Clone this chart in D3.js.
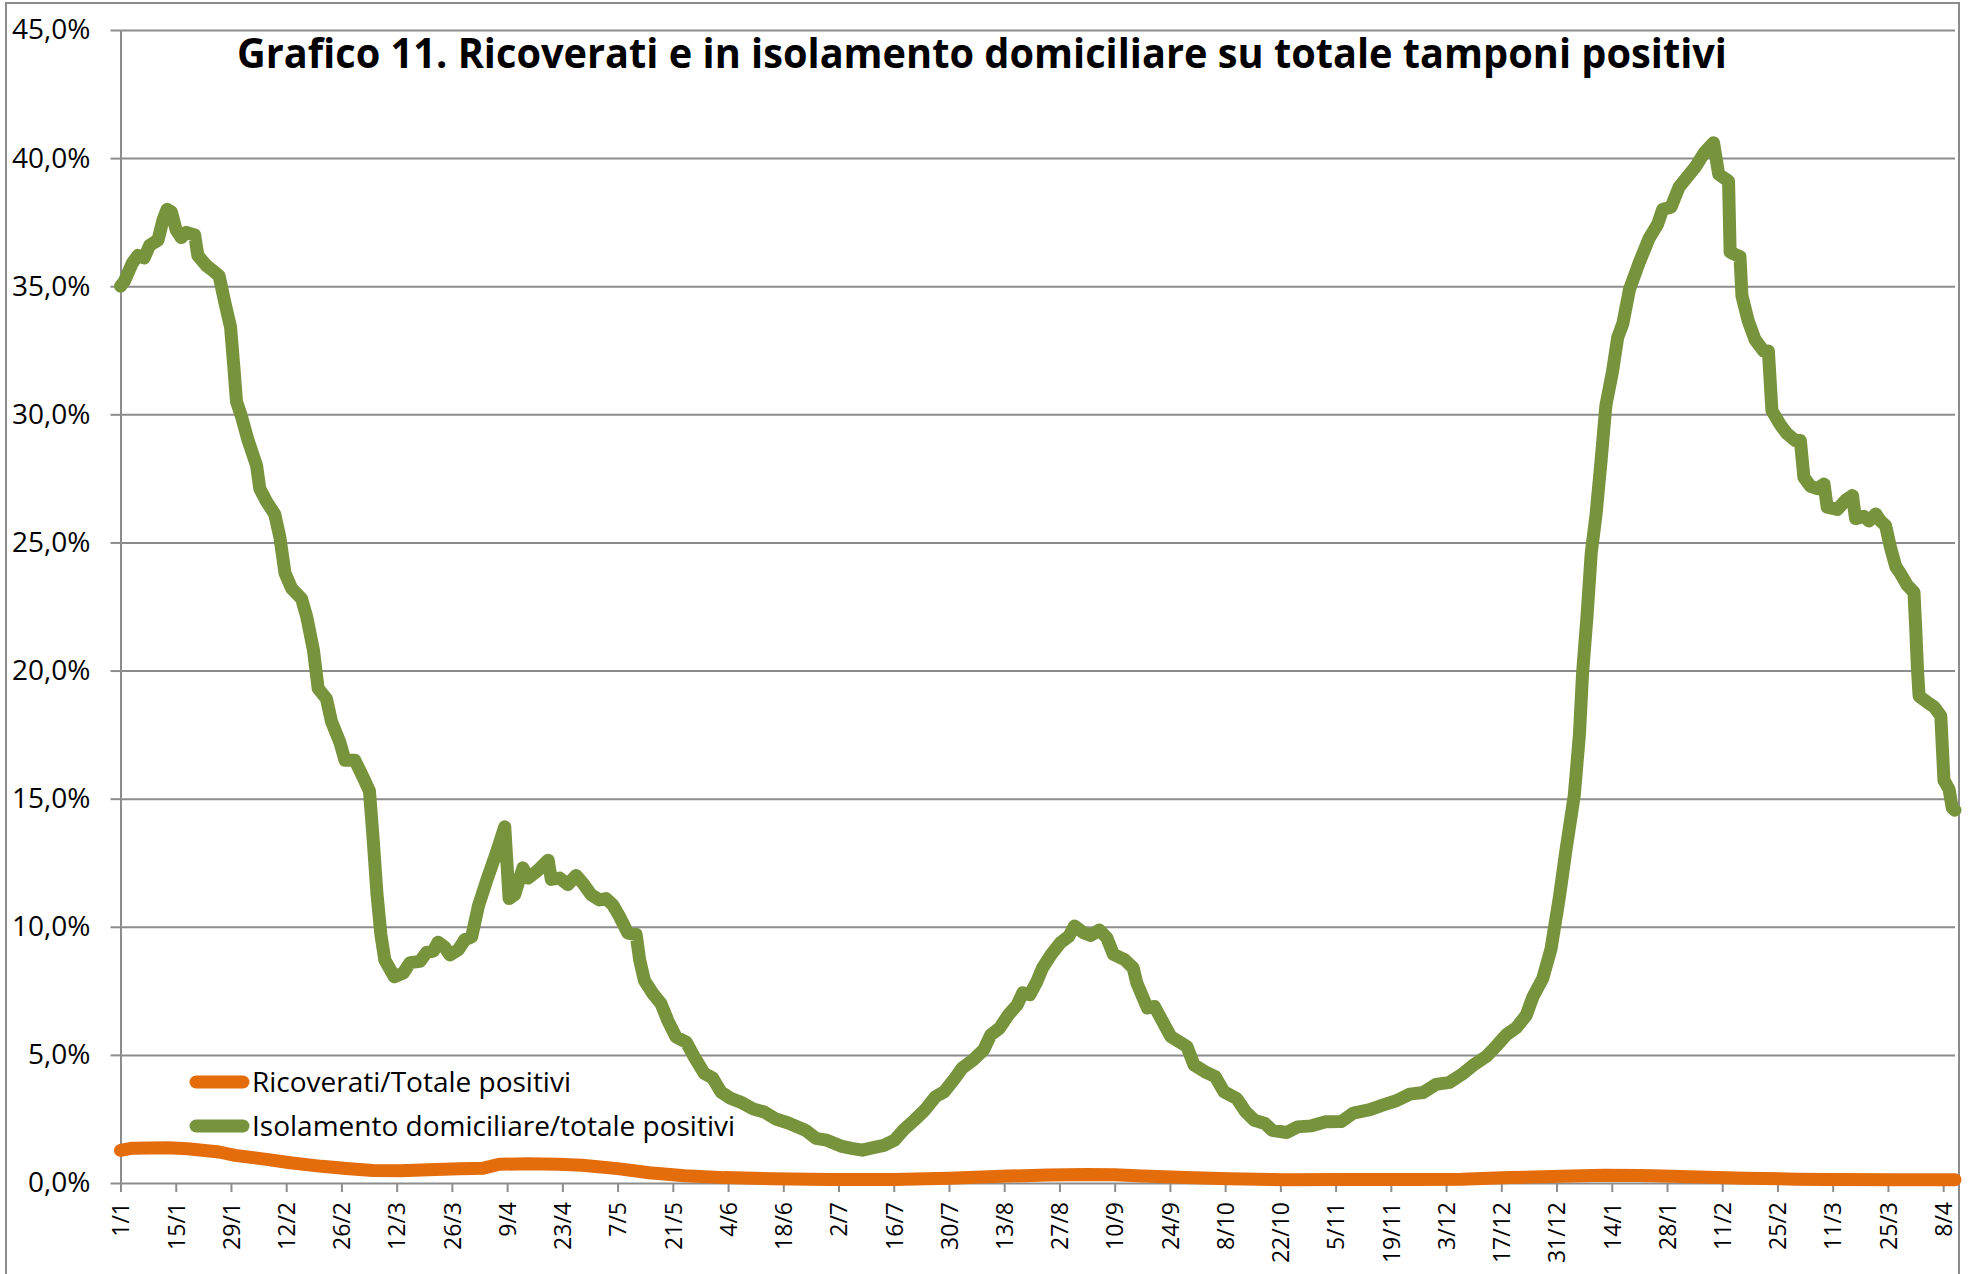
<!DOCTYPE html>
<html>
<head>
<meta charset="utf-8">
<script src="https://cdn.jsdelivr.net/npm/d3@7"></script>
<style>
  body { margin: 0; background: #fff; }
  svg { display: block; font-family: "Open Sans", "Noto Sans", sans-serif; }
</style>
</head>
<body>
<svg id="chart" width="1976" height="1274"></svg>
<script>
// days counted from 1/1/2021, values in %
const isoDays = [0, 1, 3, 4.4, 6, 7.4, 9.5, 10.8, 11.8, 12.9, 14.1, 15.4, 16.7, 18.8, 19.6, 21.8, 23.5, 25, 26.4, 27.9,
  28.7, 29.4, 30.7, 32.3, 34.5, 35.3, 37, 39.1, 40.4, 41.7, 43.4, 45.9, 47.2, 48.9, 50.1, 52.2, 53.5, 55.6, 56.9, 59.4,
  61.6, 63.1, 64, 65, 66, 67, 69.4, 71.7, 73.4, 75.9, 77.6, 79.3, 80.5, 82.2, 83.5, 85.6, 87.3, 89, 90.7, 92.8,
  95.3, 97.4, 98.5, 99.9, 102, 103.3, 105.8, 108.4, 109.2, 111.3, 113.4, 115.5, 117.2, 119.3, 121.4, 123.1, 124.8, 126.5, 128.6, 130.7,
  131.6, 132.8, 134.9, 137, 138.7, 140.8, 143.4, 145.5, 148, 150.1, 152.2, 154.7, 157.3, 160.2, 163.2, 166.1, 169.1, 173.6, 176.3, 179,
  182.6, 185.3, 188, 190.8, 193.5, 196.2, 198.4, 201.2, 203.9, 206.6, 208.8, 211.5, 213.3, 216.1, 218.8, 220.6, 222.8, 225.1, 227.3, 228.7,
  230.5, 232.3, 233.7, 235.9, 238.2, 240.4, 241.8, 244.1, 245.9, 248.1, 250, 251.7, 254.5, 256.7, 257.6, 260.3, 262.1, 263.9, 266.2, 270.3,
  272.1, 274.8, 277.5, 279.7, 282.9, 285.2, 287.4, 290.1, 291.9, 295.6, 298.3, 301.9, 305.5, 309.5, 312.5, 316.7, 320.1, 323.4, 326.8, 330.2,
  333.5, 336.9, 340.3, 342.8, 346.2, 348.7, 351.3, 353.8, 356.3, 358, 360.5, 362.6, 364.7, 366.4, 368.5, 369.8, 370.6, 371.7, 372.8, 374,
  375.3, 376.5, 378.2, 379.5, 380.8, 382.5, 385, 387.5, 389.6, 390.9, 393, 395.1, 397.2, 399.3, 401.4, 403.8, 405.1, 407.6, 408, 410.5,
  411, 412.6, 414.3, 416.5, 417.7, 418.6, 420.7, 422.4, 424.5, 425.8, 426.7, 428.4, 430.1, 431.8, 432.6, 435.2, 437.3, 439, 439.8, 441.9,
  443.2, 444.9, 446.1, 447.4, 448.7, 450, 451.2, 452.9, 454.6, 455, 455.5, 455.9, 458, 459.7, 461.4, 462.2, 463.5, 464.3, 465];
const isoValues = [35.0, 35.2, 35.9, 36.2, 36.1, 36.6, 36.8, 37.6, 38.0, 37.9, 37.2, 36.9, 37.1, 37.0, 36.2, 35.8, 35.6, 35.4, 34.4, 33.4,
  31.9, 30.5, 29.9, 29.0, 28.0, 27.1, 26.6, 26.1, 25.2, 23.8, 23.2, 22.8, 22.1, 20.8, 19.3, 18.9, 18.0, 17.2, 16.5, 16.5,
  15.8, 15.3, 13.5, 11.3, 9.7, 8.7, 8.05, 8.2, 8.6, 8.65, 9.0, 9.05, 9.4, 9.2, 8.9, 9.1, 9.5, 9.6, 10.8, 11.8,
  12.9, 13.9, 11.1, 11.25, 12.3, 11.9, 12.2, 12.6, 11.85, 11.9, 11.65, 12.0, 11.7, 11.25, 11.05, 11.1, 10.85, 10.4, 9.75, 9.7,
  8.7, 7.9, 7.4, 7.0, 6.35, 5.7, 5.5, 4.9, 4.27, 4.1, 3.55, 3.3, 3.15, 2.9, 2.77, 2.5, 2.35, 2.06, 1.74, 1.67,
  1.44, 1.35, 1.28, 1.38, 1.47, 1.67, 2.06, 2.45, 2.85, 3.37, 3.56, 4.09, 4.48, 4.8, 5.2, 5.78, 6.04, 6.57, 6.96, 7.42,
  7.35, 7.87, 8.39, 8.92, 9.37, 9.63, 10.03, 9.77, 9.66, 9.87, 9.57, 8.92, 8.72, 8.39, 7.81, 6.83, 6.89, 6.37, 5.72, 5.33,
  4.61, 4.35, 4.15, 3.56, 3.3, 2.78, 2.45, 2.32, 2.06, 1.97, 2.19, 2.23, 2.39, 2.4, 2.73, 2.86, 3.05, 3.21, 3.47, 3.53,
  3.85, 3.93, 4.27, 4.59, 4.94, 5.34, 5.79, 6.06, 6.54, 7.26, 7.98, 9.13, 11.13, 13.0, 15.13, 17.5, 19.9, 22.07, 24.6, 26.07,
  28.2, 30.34, 31.68, 33.0, 33.54, 34.88, 35.94, 36.88, 37.41, 38.0, 38.08, 38.88, 39.28, 39.68, 40.2, 40.6, 39.37, 39.1, 36.33, 36.15,
  34.62, 33.64, 32.92, 32.47, 32.47, 30.14, 29.6, 29.25, 28.98, 28.98, 27.54, 27.19, 27.1, 27.28, 26.38, 26.29, 26.65, 26.83, 25.93, 26.02,
  25.84, 26.11, 25.84, 25.66, 24.77, 24.05, 23.78, 23.33, 23.06, 21.8, 20.0, 19.0, 18.76, 18.58, 18.23, 15.72, 15.36, 14.64, 14.55];

const ricDays = [0, 3, 12, 17, 25, 29, 37, 43, 51, 58, 64, 71, 78, 86, 92, 96, 103, 111, 117, 126,
  134, 143, 153, 165, 180, 196, 210, 225, 235, 245, 252, 259, 270, 281, 295, 311, 327, 340, 352, 365,
  376, 385, 391, 400, 412, 425, 433, 450, 465];
const ricValues = [1.27, 1.36, 1.38, 1.34, 1.21, 1.08, 0.92, 0.79, 0.65, 0.56, 0.49, 0.48, 0.52, 0.56, 0.58, 0.73, 0.75, 0.73, 0.69, 0.56,
  0.40, 0.28, 0.21, 0.17, 0.14, 0.14, 0.19, 0.27, 0.31, 0.33, 0.32, 0.27, 0.21, 0.17, 0.13, 0.14, 0.14, 0.15, 0.21, 0.26,
  0.30, 0.29, 0.27, 0.23, 0.19, 0.15, 0.14, 0.13, 0.13];

const tickLabels = ["1/1", "15/1", "29/1", "12/2", "26/2", "12/3", "26/3", "9/4", "23/4", "7/5", "21/5", "4/6", "18/6",
  "2/7", "16/7", "30/7", "13/8", "27/8", "10/9", "24/9", "8/10", "22/10", "5/11", "19/11", "3/12", "17/12", "31/12",
  "14/1", "28/1", "11/2", "25/2", "11/3", "25/3", "8/4"];
const yTicks = [0, 5, 10, 15, 20, 25, 30, 35, 40, 45];

const seriesNames = ["Ricoverati/Totale positivi", "Isolamento domiciliare/totale positivi"];
const seriesColors = ["#E46C0A", "#77933C"];
const title = "Grafico 11. Ricoverati e in isolamento domiciliare su totale tamponi positivi";

const svg = d3.select("#chart");
const gridColor = "#8c8c8c";
const plotLeft = 120.5, plotRight = 1955, plotTop = 30, plotBottom = 1183;

const x = d3.scaleLinear().domain([0, 465]).range([plotLeft, plotRight]);
const y = d3.scaleLinear().domain([0, 45]).range([plotBottom, plotTop]);

// outer chart frame
svg.append("rect")
  .attr("x", 6).attr("y", 3).attr("width", 1953).attr("height", 1320)
  .attr("fill", "#fff").attr("stroke", gridColor).attr("stroke-width", 2);

// horizontal gridlines
const grid = svg.append("g")
  .attr("transform", `translate(${plotLeft},0)`)
  .call(d3.axisLeft(y).tickValues(yTicks.filter(d => d > 0)).tickSize(-(plotRight - plotLeft)).tickFormat(""));
grid.select(".domain").remove();
grid.selectAll("line").attr("stroke", gridColor).attr("stroke-width", 2);

// y axis
const yAxis = svg.append("g")
  .attr("transform", `translate(${plotLeft},0)`)
  .call(d3.axisLeft(y).tickValues(yTicks).tickSize(10).tickSizeOuter(0).tickPadding(20)
    .tickFormat(d => d.toFixed(1).replace(".", ",") + "%"));
yAxis.select(".domain").attr("stroke", gridColor).attr("stroke-width", 2);
yAxis.selectAll("line").attr("stroke", gridColor).attr("stroke-width", 2);
yAxis.selectAll("text")
  .attr("font-family", "'Open Sans', sans-serif").attr("font-size", 28).attr("fill", "#000");

// x axis
const tickDays = tickLabels.map((d, i) => i * 14);
const xAxis = svg.append("g")
  .attr("transform", `translate(0,${plotBottom})`)
  .call(d3.axisBottom(x).tickValues(tickDays).tickSize(9).tickSizeOuter(0)
    .tickFormat((d, i) => tickLabels[i]));
xAxis.select(".domain").attr("stroke", gridColor).attr("stroke-width", 2);
xAxis.selectAll("line").attr("stroke", gridColor).attr("stroke-width", 2);
xAxis.selectAll("text")
  .attr("font-family", "'Open Sans', sans-serif").attr("font-size", 23).attr("fill", "#000")
  .attr("transform", "rotate(-90)")
  .attr("text-anchor", "end")
  .attr("x", -19).attr("y", 0).attr("dy", "0.36em");

// series lines
const line = d3.line().x(d => x(d[0])).y(d => y(d[1]));
const series = [d3.zip(ricDays, ricValues), d3.zip(isoDays, isoValues)];

svg.selectAll(".series")
  .data(series)
  .join("path")
  .attr("class", "series")
  .attr("d", line)
  .attr("fill", "none")
  .attr("stroke", (d, i) => seriesColors[i])
  .attr("stroke-width", 13)
  .attr("stroke-linejoin", "round")
  .attr("stroke-linecap", "round");

// title
svg.append("text")
  .attr("x", 237).attr("y", 68)
  .attr("font-family", "'Open Sans', sans-serif")
  .attr("font-weight", "bold")
  .attr("font-size", 42)
  .attr("textLength", 1490)
  .attr("lengthAdjust", "spacingAndGlyphs")
  .attr("fill", "#000")
  .text(title);

// legend
const legend = svg.append("g");
const rows = legend.selectAll("g")
  .data(seriesNames)
  .join("g")
  .attr("transform", (d, i) => `translate(0,${1082 + i * 44})`);
rows.append("line")
  .attr("x1", 196).attr("x2", 243)
  .attr("stroke", (d, i) => seriesColors[i])
  .attr("stroke-width", 13)
  .attr("stroke-linecap", "round");
rows.append("text")
  .attr("x", 252).attr("y", 10)
  .attr("font-family", "'Open Sans', sans-serif")
  .attr("font-size", 28)
  .attr("fill", "#000")
  .text(d => d);
</script>
</body>
</html>
